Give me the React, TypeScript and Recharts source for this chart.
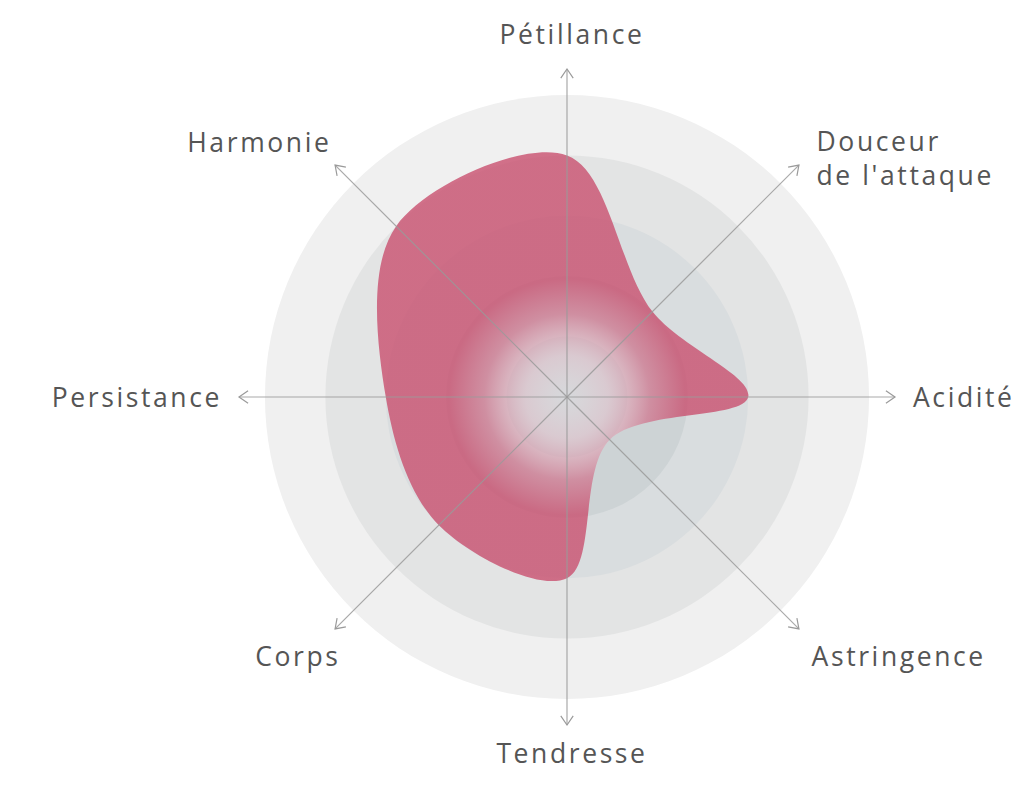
import { PolarAngleAxis, PolarRadiusAxis, Radar, RadarChart } from "recharts";

const axes = [
  "Pétillance",
  "Douceur\nde l'attaque",
  "Acidité",
  "Astringence",
  "Tendresse",
  "Corps",
  "Persistance",
  "Harmonie",
];
const scores = [4, 2, 3, 1, 3, 3, 3, 4];
const ringLevels = [5, 4, 3, 2, 1];
const ringColors = ["#f0f0f0", "#e3e4e4", "#d9dddf", "#cdd3d5", "#c3cacd"];
const AXIS_MAX = 5.43;

const CX = 567;
const CY = 397;
const OUTER = 328;

const data = axes.map((axis, i) => {
  const row: any = { axis, score: scores[i] };
  ringLevels.forEach((lvl) => {
    row[`ring${lvl}`] = lvl;
  });
  return row;
});

const centerOf = (pts: any[]) => ({
  x: pts.reduce((s, p) => s + p.x, 0) / pts.length,
  y: pts.reduce((s, p) => s + p.y, 0) / pts.length,
});

// filled disc, radius taken from the scaled points
const RingShape = (color: string) => (props: any) => {
  const pts = props.points || [];
  if (!pts.length) return null;
  const c = centerOf(pts);
  const r = Math.hypot(pts[0].x - c.x, pts[0].y - c.y);
  return <circle cx={c.x} cy={c.y} r={r} fill={color} />;
};

// closed centripetal catmull-rom through the radar points
const smoothPath = (pts: any[]) => {
  const n = pts.length;
  const d = (a: any, b: any) => Math.sqrt(Math.hypot(a.x - b.x, a.y - b.y));
  let path = `M${pts[0].x},${pts[0].y}`;
  for (let i = 0; i < n; i++) {
    const p0 = pts[(i - 1 + n) % n];
    const p1 = pts[i];
    const p2 = pts[(i + 1) % n];
    const p3 = pts[(i + 2) % n];
    const l01a = d(p0, p1), l12a = d(p1, p2), l23a = d(p2, p3);
    const l01 = l01a * l01a, l12 = l12a * l12a, l23 = l23a * l23a;
    const a = 2 * l01 + 3 * l01a * l12a + l12;
    const nn = 3 * l01a * (l01a + l12a);
    const b = 2 * l23 + 3 * l23a * l12a + l12;
    const m = 3 * l23a * (l23a + l12a);
    const c1x = (p1.x * a - p0.x * l12 + p2.x * l01) / nn;
    const c1y = (p1.y * a - p0.y * l12 + p2.y * l01) / nn;
    const c2x = (p2.x * b + p1.x * l23 - p3.x * l12) / m;
    const c2y = (p2.y * b + p1.y * l23 - p3.y * l12) / m;
    path += ` C${c1x},${c1y} ${c2x},${c2y} ${p2.x},${p2.y}`;
  }
  return path + "Z";
};

const BlobShape = (props: any) => {
  const pts = props.points || [];
  if (!pts.length) return null;
  return <path d={smoothPath(pts)} fill="url(#blobFill)" />;
};

const AxisTick = (props: any) => {
  const { payload } = props;
  const ang = (payload.coordinate * Math.PI) / 180;
  const ux = Math.cos(ang);
  const uy = -Math.sin(ang);
  const tx = CX + ux * OUTER;
  const ty = CY + uy * OUTER;
  // open arrow head
  const head = 11;
  const back = Math.atan2(-uy, -ux);
  const h1x = tx + head * Math.cos(back + 0.6);
  const h1y = ty + head * Math.sin(back + 0.6);
  const h2x = tx + head * Math.cos(back - 0.6);
  const h2y = ty + head * Math.sin(back - 0.6);

  const lines = String(payload.value).split("\n");
  let lx = CX;
  let ly = CY;
  let anchor: any = "middle";
  if (Math.abs(ux) < 0.1) {
    lx = CX + 5;
    ly = uy < 0 ? CY - 363 : CY + 356;
  } else if (Math.abs(uy) < 0.1) {
    lx = ux > 0 ? CX + 346 : CX - 345;
    anchor = ux > 0 ? "start" : "end";
  } else {
    lx = CX + ux * 360 + (ux > 0 ? -10 : uy < 0 ? 19 : 28);
    ly = CY + uy * 360 + (uy > 0 ? 4 : 0);
    anchor = ux > 0 ? "start" : "end";
    if (lines.length > 1) {
      lx += 5;
      ly += 16;
    }
  }
  const lh = 34;
  const y0 = ly - ((lines.length - 1) * lh) / 2;

  return (
    <g>
      <line x1={CX} y1={CY} x2={tx} y2={ty} stroke="#9a9a9a" strokeOpacity={0.85} strokeWidth={1.2} />
      <polyline
        points={`${h1x},${h1y} ${tx},${ty} ${h2x},${h2y}`}
        fill="none"
        stroke="#9a9a9a"
        strokeWidth={1.2}
      />
      <text
        x={lx}
        y={y0}
        textAnchor={anchor}
        dominantBaseline="central"
        fontFamily="'Open Sans', sans-serif"
        fontSize={26.5}
        letterSpacing={2.6}
        fill="#555555"
      >
        {lines.map((t, i) => (
          <tspan key={t} x={lx} y={y0 + i * lh} dominantBaseline="central">
            {t}
          </tspan>
        ))}
      </text>
    </g>
  );
};

export default function App() {
  return (
    <div style={{ position: "absolute", left: 0, top: 0, width: 1024, height: 789, background: "#fff" }}>
      <RadarChart
        width={1024}
        height={789}
        data={data}
        cx={CX}
        cy={CY}
        outerRadius={OUTER}
        margin={{ top: 0, right: 0, bottom: 0, left: 0 }}
      >
        <defs>
          <radialGradient id="blobFill" gradientUnits="userSpaceOnUse" cx={CX} cy={CY} r={118}>
            <stop offset="0" stopColor="#f3eef0" stopOpacity={0.4} />
            <stop offset="0.35" stopColor="#ecc9d3" stopOpacity={0.55} />
            <stop offset="0.7" stopColor="#d07c93" stopOpacity={0.78} />
            <stop offset="1" stopColor="#c9506f" stopOpacity={0.8} />
          </radialGradient>
        </defs>
        <PolarRadiusAxis domain={[0, AXIS_MAX]} tick={false} axisLine={false} />
        {ringLevels.map((lvl, i) => (
          <Radar
            key={lvl}
            dataKey={`ring${lvl}`}
            isAnimationActive={false}
            shape={RingShape(ringColors[i])}
          />
        ))}
        <Radar dataKey="score" isAnimationActive={false} shape={BlobShape} />
        <PolarAngleAxis dataKey="axis" tick={AxisTick} tickLine={false} axisLine={false} />
      </RadarChart>
    </div>
  );
}
